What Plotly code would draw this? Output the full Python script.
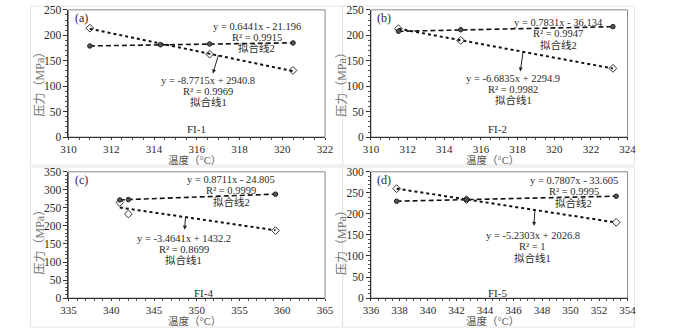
import plotly.graph_objects as go

W, H = 700, 333

# ---- data ----
panel_labels = ["(a)", "(b)", "(c)", "(d)"]
sample_names = ["FI-1", "FI-2", "FI-4", "FI-5"]

a_fit1_x = [311.0, 316.6, 320.5]
a_fit1_y = [214, 163, 131]
a_fit2_x = [311.0, 314.3, 316.6, 320.5]
a_fit2_y = [179, 181.5, 183, 185]

b_fit1_x = [311.5, 314.9, 323.2]
b_fit1_y = [213, 190, 135]
b_fit2_x = [311.5, 314.9, 323.2]
b_fit2_y = [208, 211, 217]

c_fit1_x = [341.0, 342.0, 359.2]
c_fit1_y = [265, 233, 187]
c_fit2_x = [341.0, 342.0, 359.2]
c_fit2_y = [272, 273, 288]

d_fit1_x = [337.8, 342.7, 353.2]
d_fit1_y = [260, 234, 180]
d_fit2_x = [337.8, 342.7, 353.2]
d_fit2_y = [230, 234, 242]

# trendline coefficients (slope, intercept) as printed
fit1_slope = [-8.7715, -6.6835, -3.4641, -5.2303]
fit1_icpt = [2940.8, 2294.9, 1432.2, 2026.8]
fit1_r2 = ["0.9969", "0.9982", "0.8699", "1"]
fit2_slope = [0.6441, 0.7831, 0.8711, 0.7807]
fit2_icpt = [-21.196, -36.134, -24.805, -33.605]
fit2_r2 = ["0.9915", "0.9947", "0.9999", "0.9995"]

x_ranges = [[310, 322], [310, 324], [335, 365], [336, 354]]
x_dticks = [2, 2, 5, 2]
y_ranges = [[0, 250], [0, 250], [0, 350], [0, 300]]
y_dtick = 50

fit1_xs = [a_fit1_x, b_fit1_x, c_fit1_x, d_fit1_x]
fit1_ys = [a_fit1_y, b_fit1_y, c_fit1_y, d_fit1_y]
fit2_xs = [a_fit2_x, b_fit2_x, c_fit2_x, d_fit2_x]
fit2_ys = [a_fit2_y, b_fit2_y, c_fit2_y, d_fit2_y]

# ---- layout helpers ----
def px(x):
    return x / W

def py(y):
    return 1 - y / H

# plot-area pixel boxes: (left, right, top, bottom)
boxes = [(62, 325, 4, 136), (372, 635, 4, 136), (62, 325, 172, 303), (372, 635, 172, 303)]

SERIF = "'Liberation Serif', 'Times New Roman', 'Noto Sans CJK SC', serif"
TXT = "#2a2a2a"

fig = go.Figure()
axes_names = [("x", "y"), ("x2", "y2"), ("x3", "y3"), ("x4", "y4")]

for i in range(4):
    xa, ya = axes_names[i]
    x1 = fit1_xs[i]
    x2 = fit2_xs[i]
    t1x = [min(x1), max(x1)]
    t1y = [fit1_slope[i] * v + fit1_icpt[i] for v in t1x]
    t2x = [min(x2), max(x2)]
    t2y = [fit2_slope[i] * v + fit2_icpt[i] for v in t2x]
    fig.add_trace(go.Scatter(x=t1x, y=t1y, mode="lines", xaxis=xa, yaxis=ya,
                             line=dict(color="#111", width=2, dash="dot"), showlegend=False))
    fig.add_trace(go.Scatter(x=t2x, y=t2y, mode="lines", xaxis=xa, yaxis=ya,
                             line=dict(color="#111", width=1.6, dash="5px,3px"), showlegend=False))
    fig.add_trace(go.Scatter(x=x1, y=fit1_ys[i], mode="markers", xaxis=xa, yaxis=ya,
                             marker=dict(symbol="diamond-open", size=6, color="#333",
                                         line=dict(width=1)), showlegend=False))
    fig.add_trace(go.Scatter(x=x2, y=fit2_ys[i], mode="markers", xaxis=xa, yaxis=ya,
                             marker=dict(symbol="circle", size=4.5, color="#555",
                                         line=dict(width=1, color="#222")), showlegend=False))

layout = dict(width=W, height=H, margin=dict(l=0, r=0, t=0, b=0),
              paper_bgcolor="white", plot_bgcolor="white", showlegend=False)

for i in range(4):
    l, r, t, b = boxes[i]
    xk = "xaxis" if i == 0 else f"xaxis{i+1}"
    yk = "yaxis" if i == 0 else f"yaxis{i+1}"
    ya = "y" if i == 0 else f"y{i+1}"
    xa = "x" if i == 0 else f"x{i+1}"
    layout[xk] = dict(domain=[px(l), px(r)], range=x_ranges[i], dtick=x_dticks[i],
                      anchor=ya, showgrid=False, zeroline=False, showline=True,
                      linecolor="#333", linewidth=1, ticks="outside", ticklen=2,
                      tickcolor="#333", tickfont=dict(family=SERIF, size=11, color=TXT),
                      minor=dict(ticks="outside", ticklen=2, nticks=5, tickcolor="#555"),
                      fixedrange=True)
    layout[yk] = dict(domain=[py(b), py(t)], range=y_ranges[i], dtick=y_dtick,
                      anchor=xa, showgrid=False, zeroline=False, showline=True,
                      linecolor="#333", linewidth=1, ticks="outside", ticklen=4,
                      tickcolor="#333", tickfont=dict(family=SERIF, size=11.5, color=TXT),
                      minor=dict(ticks="outside", ticklen=2, dtick=10, tickcolor="#555"),
                      fixedrange=True)

fig.update_layout(**layout)

shapes = []
annotations = []

def ann(x, y, text, size=10.5, color=TXT, **kw):
    d = dict(x=px(x), y=py(y), xref="paper", yref="paper", text=text, showarrow=False,
             font=dict(family=SERIF, size=size, color=color), xanchor="center", yanchor="middle")
    d.update(kw)
    annotations.append(d)

for i in range(4):
    l, r, t, b = boxes[i]
    shapes.append(dict(type="rect", xref="paper", yref="paper", x0=px(l), x1=px(r),
                       y0=py(b), y1=py(t), line=dict(color="#888", width=1), layer="below"))

outer = [(23, 343, 0, 165), (343, 642, 0, 165), (23, 343, 167, 333), (343, 642, 167, 333)]
for (l, r, t, b) in outer:
    shapes.append(dict(type="rect", xref="paper", yref="paper", x0=px(l), x1=px(r),
                       y0=py(b), y1=py(t), line=dict(color="#e4e4e4", width=1), layer="below"))

fit2_pos = [(255, 21), (564, 17), (229, 180), (580, 181)]
fit1_pos = [(205, 77), (518, 75), (180, 241), (538, 238)]
arrows = [((210, 70), (216, 50)), ((525, 68), (528, 47)), ((181, 232), (182, 218)), ((539, 228), (540, 212))]
label_pos = [(75, 12), (385, 12), (75, 181), (385, 181)]
fi_pos = [(193, 128), (502, 128), (200, 298), (502, 298)]
xt_pos = [(191, 160), (497, 160), (191, 326.8), (497, 326.8)]
yt_pos = [(33, 78), (343, 78), (33, 242), (343, 242)]

for i in range(4):
    cx, cy = fit2_pos[i]
    ann(cx, cy, f"y = {fit2_slope[i]}x - {abs(fit2_icpt[i])}")
    ann(cx, cy + 11.5, f"R² = {fit2_r2[i]}")
    ann(cx, cy + 23, "拟合线2")
    cx, cy = fit1_pos[i]
    ann(cx, cy, f"y = {fit1_slope[i]}x + {fit1_icpt[i]}")
    ann(cx, cy + 11.5, f"R² = {fit1_r2[i]}")
    ann(cx, cy + 23, "拟合线1")
    (hx, hy), (tx, ty) = arrows[i]
    annotations.append(dict(x=px(hx), y=py(hy), xref="paper", yref="paper", text="",
                            showarrow=True, ax=tx - hx, ay=ty - hy, axref="pixel", ayref="pixel",
                            arrowhead=2, arrowsize=0.8, arrowwidth=1, arrowcolor="#222"))
    ann(*label_pos[i], panel_labels[i], size=12)
    ann(*fi_pos[i], sample_names[i], size=11)
    ann(*xt_pos[i], "温度（°C）", size=10.5, color="#555")
    ann(*yt_pos[i], "压力（MPa）", size=12, color="#777", textangle=-90)

fig.update_layout(shapes=shapes, annotations=annotations)
fig.write_html("out.html", config={"displayModeBar": False},
               post_script="document.body.style.margin='0';document.body.style.overflow='hidden';")
